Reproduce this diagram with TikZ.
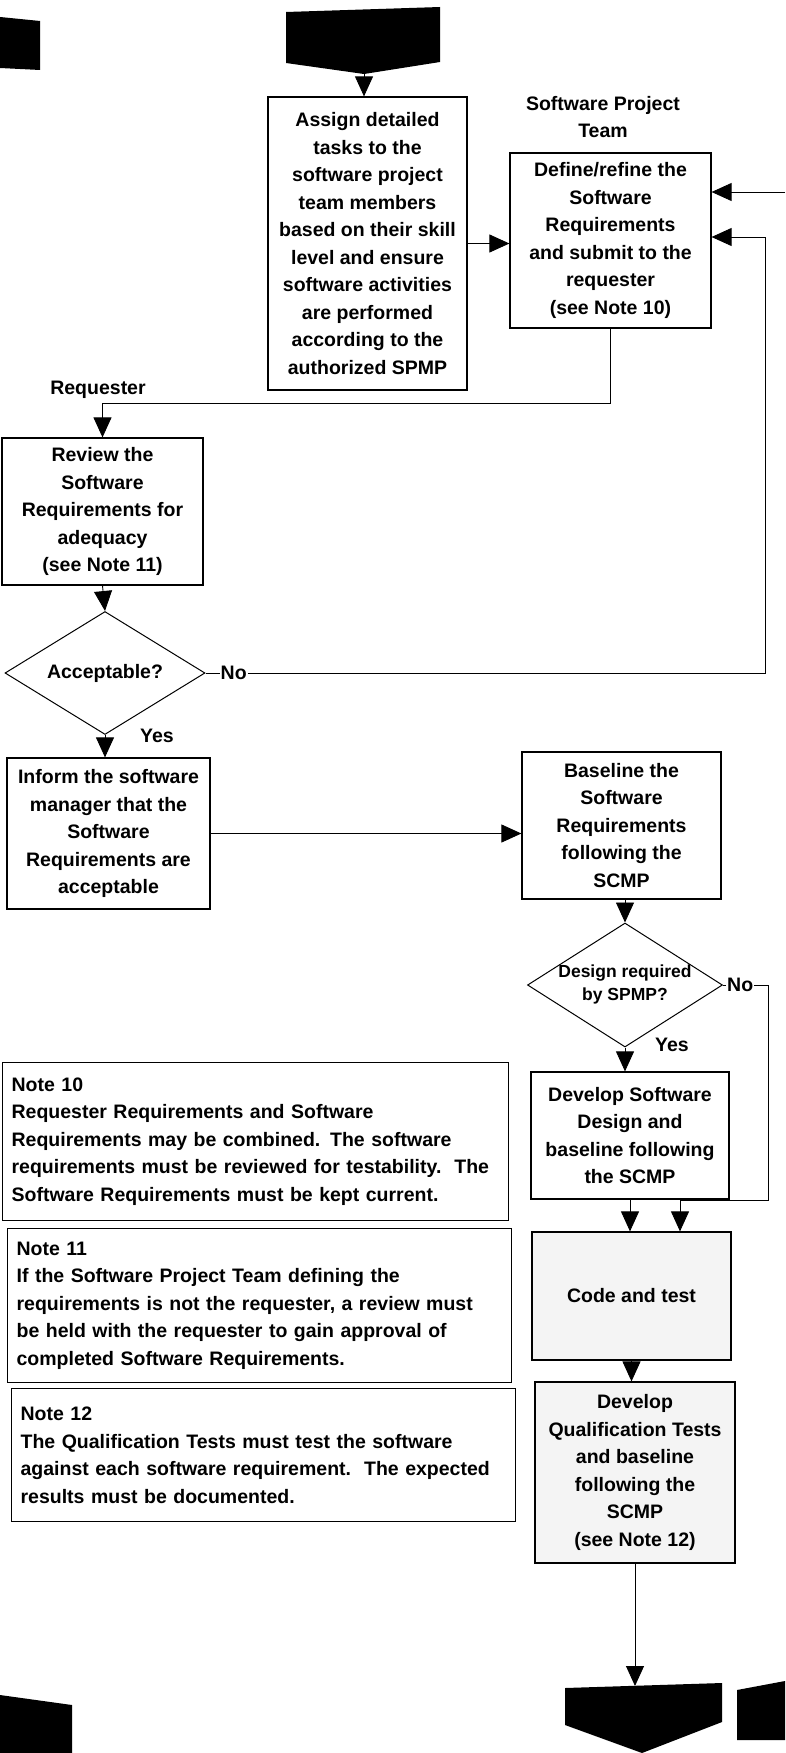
\documentclass[tikz,border=0pt]{standalone}
\usepackage{fontspec}
\setmainfont{Liberation Sans}
\usetikzlibrary{arrows.meta,shapes.geometric}
\begin{document}
\begin{tikzpicture}[x=1pt,y=-1pt,
  every node/.style={font=\bfseries\fontsize{19.5}{27.5}\selectfont, text=black},
  procbox/.style={draw, line width=1.2pt, align=center, inner sep=0pt},
  shaded/.style={fill=gray!9},
  notebox/.style={draw, line width=1.2pt, align=left, anchor=north west, inner xsep=9pt, inner ysep=0pt},
  decision/.style={diamond, draw, line width=1pt, inner sep=0pt},
  smalltext/.style={align=center, font=\bfseries\fontsize{17.5}{23}\selectfont},
  flow/.style={line width=0.9pt, -{Triangle[length=20pt,width=18pt]}},
  link/.style={line width=0.9pt},
  tag/.style={inner sep=1pt}
]
\useasboundingbox (0,0) rectangle (785,1753);

% off-page connectors
\fill (0,17) -- (40,21) -- (40,70) -- (0,68) -- cycle;
\fill (286,12) -- (440,7) -- (440,62) -- (364,74) -- (286,63) -- cycle;
\coordinate (topc) at (364,74);
\fill (0,1695) -- (72,1705) -- (72,1753) -- (0,1753) -- cycle;
\fill (565,1688) -- (722,1683) -- (722,1722) -- (642,1753) -- (565,1725) -- cycle;
\coordinate (botc) at (637,1686);
\fill (737,1690) -- (785,1681) -- (785,1740) -- (737,1740) -- cycle;
\coordinate (offr) at (785,192);

% swimlane labels
\node[align=center] (teamlbl) at (603,117) {Software Project\\Team};
\node (reqlbl) at (98,390) {Requester};

% process steps
\node[procbox, minimum width=199, minimum height=293] (assign) at (367.5,243.5)
  {Assign detailed\\tasks to the\\software project\\team members\\based on their skill\\level and ensure\\software activities\\are performed\\according to the\\authorized SPMP};
\node[procbox, minimum width=201, minimum height=175] (define) at (610.5,240.5)
  {Define/refine the\\Software\\Requirements\\and submit to the\\requester\\(see Note 10)};
\node[procbox, minimum width=201, minimum height=147] (review) at (102.5,511.5)
  {Review the\\Software\\Requirements for\\adequacy\\(see Note 11)};
\node[decision, minimum width=200, minimum height=123] (accept) at (105,673) {};
\node (accepttxt) at (accept.center) {Acceptable?};
\node[procbox, minimum width=203, minimum height=151] (inform) at (108.5,833.5)
  {Inform the software\\manager that the\\Software\\Requirements are\\acceptable};
\node[procbox, minimum width=199, minimum height=147] (baseline) at (621.5,825.5)
  {Baseline the\\Software\\Requirements\\following the\\SCMP};
\node[decision, minimum width=195, minimum height=124] (design) at (625,985) {};
\node[smalltext] (designtxt) at (625,984) {Design required\\by SPMP?};
\node[procbox, minimum width=198, minimum height=127] (devdesign) at (630,1135.5)
  {Develop Software\\Design and\\baseline following\\the SCMP};
\node[procbox, shaded, minimum width=199, minimum height=128] (code) at (631.5,1296)
  {Code and test};
\node[procbox, shaded, minimum width=200, minimum height=181] (qual) at (635,1472.5)
  {Develop\\Qualification Tests\\and baseline\\following the\\SCMP\\(see Note 12)};

% notes
\node[notebox, text width=488, minimum height=158] (note10) at (2,1062)
  {Note 10\\Requester Requirements and Software\\Requirements may be combined. The software\\requirements must be reviewed for testability.\ \ The\\Software Requirements must be kept current.};
\node[notebox, text width=486, minimum height=154] (note11) at (7,1228)
  {Note 11\\If the Software Project Team defining the\\requirements is not the requester, a review must\\be held with the requester to gain approval of\\completed Software Requirements.};
\node[notebox, text width=486, minimum height=133] (note12) at (11,1388)
  {Note 12\\The Qualification Tests must test the software\\against each software requirement.\ \ The expected\\results must be documented.};

% branch labels
\node[tag, anchor=west] (noA) at ([xshift=14pt]accept.east) {No};
\node (yesA) at (157,736) {Yes};
\node[tag, anchor=west] (noB) at ([xshift=3pt]design.east) {No};
\node (yesB) at (672,1045) {Yes};

% connectors
\draw[flow] (topc) -- (topc |- assign.north);
\draw[flow] (assign.east) -- (assign.east -| define.west);
\draw[flow] (offr) -- (offr -| define.east);
\coordinate (rq) at (102.5,403);
\draw[flow] (define.south) |- (rq) -- (review.north);
\draw[flow] (review.south) -- (accept.north);
\draw[link] (accept.east) -- (noA.west);
\coordinate (loopA) at (765,237);
\draw[flow] (noA.east) -| (loopA) -- ([yshift=3.5pt]define.east);
\draw[flow] (accept.south) -- (accept.south |- inform.north);
\draw[flow] (inform.east) -- (inform.east -| baseline.west);
\draw[flow] (design.north |- baseline.south) -- (design.north);
\draw[link] (design.east) -- (noB.west);
\coordinate (loopB) at (768,1200);
\coordinate (codeB) at (680,1200);
\draw[flow] (noB.east) -| (loopB) -- (codeB) -- (codeB |- code.north);
\draw[flow] (design.south) -- (design.south |- devdesign.north);
\draw[flow] (devdesign.south) -- (devdesign.south |- code.north);
\draw[flow] (code.south) -- (code.south |- qual.north);
\draw[flow] (qual.south) -- (qual.south |- botc);
\end{tikzpicture}
\end{document}
